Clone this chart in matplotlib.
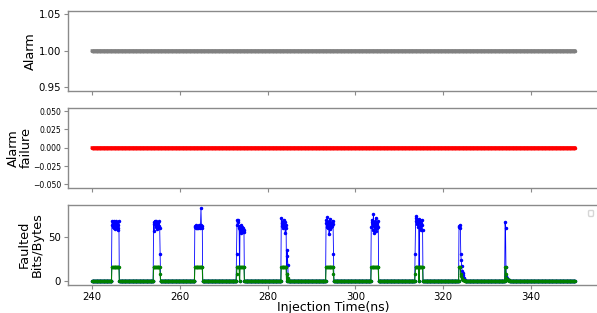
import numpy as np
import matplotlib
matplotlib.use('Agg')
import matplotlib.pyplot as plt

# injection times, one sample every 0.1 ns
t_start = 240.0
t_step = 0.1
n_samples = 1101
times = np.round(t_start + t_step * np.arange(n_samples), 1)

alarm = [1] * n_samples
alarm_failure = [0] * n_samples

# faulted bits / bytes are zero except inside these bursts
burst_starts = [244.5, 254.0, 263.4, 272.9, 283.1, 293.3, 303.6, 313.6, 323.6, 334.1]
burst_bits = [
    [64, 68, 66, 62, 69, 60, 65, 67, 59, 63, 68, 61, 66, 60, 64, 58, 69],
    [65, 57, 67, 69, 66, 62, 68, 64, 59, 66, 61, 67, 63, 68, 60, 31],
    [62, 63, 61, 64, 62, 60, 63, 62, 61, 64, 63, 62, 60, 64, 83, 62, 63, 61],
    [31, 64, 70, 67, 70, 63, 60, 0, 62, 58, 55, 64, 57, 62, 56, 60, 58, 56],
    [72, 66, 63, 60, 68, 65, 70, 62, 67, 55, 64, 60, 0, 35, 29, 18],
    [66, 70, 62, 73, 65, 60, 68, 54, 64, 71, 59, 66, 62, 67, 63, 69, 65, 31],
    [62, 67, 70, 58, 65, 76, 63, 55, 68, 61, 72, 57, 66, 64, 60, 68, 62],
    [31, 68, 72, 74, 65, 70, 62, 66, 71, 0, 60, 68, 63, 58, 66, 70, 64, 58],
    [62, 63, 61, 64, 31, 24, 17, 12, 9, 7, 5, 4, 3, 2, 1],
    [67, 60, 16, 6, 4, 3, 2, 2, 1, 1, 1],
]
burst_bytes = [
    [16] * 17,
    [16] * 15 + [8],
    [16] * 18,
    [8, 16, 16, 16, 16, 16, 16, 0, 16, 16, 16, 16, 16, 16, 16, 16, 16, 16],
    [16] * 12 + [0, 8, 8, 4],
    [16] * 17 + [8],
    [16] * 17,
    [8, 16, 16, 16, 16, 16, 16, 16, 16, 0, 16, 16, 16, 16, 16, 16, 16, 16],
    [16, 16, 16, 16, 8, 6, 4, 3, 2, 2, 1, 1, 1, 0, 0],
    [16, 16, 8, 4, 3, 2, 2, 1, 1, 1, 0],
]

x_ticks = [240, 260, 280, 300, 320, 340]
spine_gray = '#8a8a8a'


def build_fault_series():
    bits = np.zeros(n_samples)
    nbytes = np.zeros(n_samples)
    for start, b, y in zip(burst_starts, burst_bits, burst_bytes):
        i0 = int(round((start - t_start) / t_step))
        bits[i0:i0 + len(b)] = b
        nbytes[i0:i0 + len(y)] = y
    return bits, nbytes


def style_axis(ax):
    for sp in ax.spines.values():
        sp.set_color(spine_gray)
        sp.set_linewidth(1.0)
    ax.tick_params(colors=spine_gray, labelcolor='black', length=3, width=0.8, pad=2)
    ax.set_xlim(234.5, 355.5)
    ax.set_xticks(x_ticks)


def main():
    bits, nbytes = build_fault_series()

    fig = plt.figure(figsize=(5.97, 3.13), dpi=100)
    W, H = 597.0, 313.0
    left = 68 / W
    width = 531 / W
    h = 80.5 / H
    ax1 = fig.add_axes([left, 1 - 91 / H, width, h])
    ax2 = fig.add_axes([left, 1 - 188 / H, width, h])
    ax3 = fig.add_axes([left, 1 - 285 / H, width, h])

    ax1.plot(times, alarm, color='gray', marker='.', markersize=3, linewidth=2.2)
    ax1.set_yticks([0.95, 1.00, 1.05])
    ax1.set_ylabel('Alarm', fontsize=9.3)
    ax1.tick_params(labelsize=7.3)
    ax1.set_xticklabels([])

    ax2.plot(times, alarm_failure, color='red', marker='.', markersize=3, linewidth=2.2)
    ax2.set_yticks([-0.050, -0.025, 0.000, 0.025, 0.050])
    ax2.set_ylabel('Alarm\nfailure', fontsize=9.3, linespacing=1.0)
    ax2.tick_params(labelsize=5.5)
    ax2.set_xticklabels([])

    ax3.plot(times, bits, color='blue', marker='.', markersize=3, linewidth=0.6)
    ax3.plot(times, nbytes, color='green', marker='.', markersize=3, linewidth=0.8)
    ax3.set_yticks([0, 50])
    ax3.set_ylabel('Faulted\nBits/Bytes', fontsize=9.3, linespacing=1.0)
    ax3.set_xlabel('Injection Time(ns)', fontsize=9, labelpad=-0.5)
    ax3.tick_params(labelsize=7.3)
    ax3.legend(loc='upper right', frameon=True, fontsize=5, borderaxespad=0.8)

    for ax in (ax1, ax2, ax3):
        style_axis(ax)

    ax1.yaxis.set_label_coords(-0.058, 0.5)
    ax2.yaxis.set_label_coords(-0.066, 0.5)
    ax3.yaxis.set_label_coords(-0.045, 0.5)

    fig.savefig('out.png', dpi=100)


if __name__ == '__main__':
    main()
